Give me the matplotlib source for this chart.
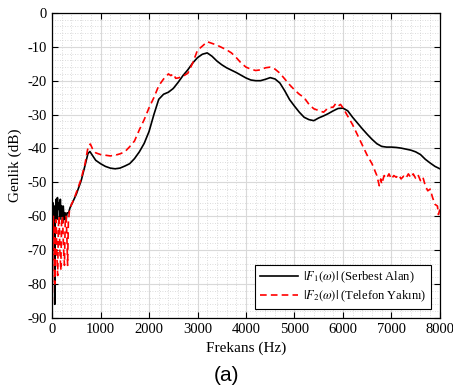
import matplotlib
matplotlib.use("Agg")
import matplotlib.pyplot as plt
import numpy as np
from matplotlib.ticker import MultipleLocator

# |F1(w)| serbest alan
f1 = [0, 15, 30, 45, 55, 65, 80, 95, 110, 125, 140, 155, 170, 185, 200, 215, 230, 250, 270,
      290, 310, 340, 370, 420, 500, 600, 680, 740, 780, 830, 900, 1000, 1100, 1200, 1300,
      1400, 1500, 1600, 1700, 1800, 1900, 2000, 2100, 2200, 2300, 2400, 2500, 2600, 2700,
      2800, 2900, 3000, 3100, 3200, 3300, 3400, 3500, 3600, 3700, 3800, 3900, 4000, 4100,
      4200, 4300, 4400, 4500, 4600, 4700, 4800, 4900, 5000, 5100, 5200, 5300, 5400, 5500,
      5600, 5700, 5800, 5900, 6000, 6100, 6200, 6300, 6400, 6500, 6600, 6700, 6800, 6900,
      7000, 7100, 7200, 7300, 7400, 7500, 7600, 7700, 7800, 7900, 8000]
db1 = [-60, -56, -62, -57, -86, -60, -55, -61, -54.5, -58, -56, -61, -55, -60, -57, -62, -57,
       -61, -59, -61, -59, -59, -57.5, -56, -53.5, -49.5, -45, -41.5, -40.9, -42, -43.5,
       -44.5, -45.3, -45.8, -46, -45.8, -45.2, -44.5, -43, -41, -38.5, -35, -30, -25.5, -24,
       -23.4, -22.3, -20.5, -18.5, -16.8, -14.8, -13.2, -12.2, -11.8, -12.8, -14.2, -15.3,
       -16.2, -16.9, -17.6, -18.4, -19.2, -19.8, -20, -20, -19.6, -19.1, -19.5, -20.7, -23,
       -25.6, -27.5, -29.3, -30.8, -31.5, -31.8, -31, -30.4, -29.7, -28.9, -28.2, -28.1,
       -28.9, -30.8, -32.5, -34.2, -35.8, -37.3, -38.6, -39.4, -39.6, -39.6, -39.7, -39.9,
       -40.2, -40.5, -41, -41.8, -43.2, -44.3, -45.3, -46]

# |F2(w)| telefon yakini
f2 = [0, 15, 25, 40, 55, 70, 85, 100, 115, 130, 145, 160, 180, 195, 215, 235, 255, 270, 290,
      305, 320, 335, 360, 400, 450, 500, 600, 680, 730, 760, 790, 830, 900, 1000, 1100, 1200,
      1300, 1400, 1500, 1600, 1700, 1800, 1900, 2000, 2100, 2200, 2300, 2400, 2450, 2500,
      2550, 2600, 2700, 2800, 2900, 3000, 3100, 3200, 3300, 3400, 3500, 3600, 3700, 3800,
      3900, 4000, 4100, 4200, 4300, 4400, 4500, 4600, 4700, 4800, 4900, 5000, 5100, 5200,
      5300, 5400, 5500, 5600, 5700, 5800, 5850, 5900, 5950, 6000, 6100, 6200, 6300, 6400,
      6500, 6600, 6700, 6750, 6780, 6800, 6850, 6900, 6950, 7000, 7050, 7100, 7150, 7200,
      7250, 7300, 7350, 7400, 7450, 7500, 7550, 7600, 7650, 7700, 7750, 7800, 7850, 7900,
      7950, 7970, 8000]
db2 = [-89, -70, -60, -66, -80, -62, -61, -72, -77.5, -63, -60, -70, -76, -62, -60, -69,
       -74.5, -62, -60, -66, -74.5, -62, -58, -56.5, -55, -53, -49, -44.5, -40.5, -39, -38.7,
       -40, -41.3, -41.8, -42, -42.2, -42, -41.6, -41, -39.5, -37.8, -34.5, -31.5, -28, -25,
       -21.5, -19.5, -18, -18.5, -18, -19.3, -19.2, -18.7, -17.8, -14.8, -11, -9.8, -8.5, -9,
       -9.5, -10.2, -10.9, -11.8, -13.2, -14.8, -16, -16.6, -17, -16.8, -16.2, -16, -16.6,
       -17.8, -19.5, -21.2, -22.7, -24, -25, -27, -28.3, -28.8, -29.3, -28, -27.8, -26.8,
       -27.5, -27, -28, -30.5, -33, -36, -39, -42, -44.5, -48, -51, -49, -50.5, -48, -48.8,
       -47.5, -49, -48, -48.5, -47.8, -49, -48.2, -48.8, -47.5, -48.6, -47.5, -48.8, -47.8,
       -49.5, -48.5, -51, -52.5, -52, -54.5, -56.5, -57, -59.5, -58]

plt.rcParams['font.family'] = ['Liberation Serif', 'DejaVu Serif']
plt.rcParams['mathtext.fontset'] = 'stix'
plt.rcParams['axes.unicode_minus'] = False

fig = plt.figure(figsize=(4.53, 3.91), dpi=100)
ax = fig.add_axes([0.115, 0.187, 0.856, 0.780])

ax.plot(f1, db1, color='black', lw=1.2, label=r'$|F_1(\omega)|$ (Serbest Alan)')
ax.plot(f2, db2, color='red', lw=1.2, ls=(0, (4, 2.5)), label=r'$|F_2(\omega)|$ (Telefon Yakını)')

ax.set_xlim(0, 8000)
ax.set_ylim(-90, 0)
ax.xaxis.set_major_locator(MultipleLocator(1000))
ax.xaxis.set_minor_locator(MultipleLocator(200))
ax.yaxis.set_major_locator(MultipleLocator(10))
ax.yaxis.set_minor_locator(MultipleLocator(2))
ax.grid(which='major', color='#d9d9d9', lw=0.8)
ax.grid(which='minor', color='#d0d0d0', lw=0.6, ls=(0, (1, 2)))
ax.set_axisbelow(True)
ax.tick_params(which='both', direction='in', top=True, right=True, labelsize=10.5)
ax.tick_params(which='minor', length=0)
ax.tick_params(which='major', length=4, width=0.8)
for s in ax.spines.values():
    s.set_linewidth(0.9)

ax.set_xlabel('Frekans (Hz)', fontsize=11)
ax.set_ylabel('Genlik (dB)', fontsize=11)

leg = ax.legend(loc='lower right', fontsize=9, fancybox=False, framealpha=1,
                edgecolor='black', handlelength=3.0, handletextpad=0.4,
                borderpad=0.4, labelspacing=0.3, borderaxespad=0.7)
leg.get_frame().set_linewidth(0.8)

fig.text(0.5, 0.04, '(a)', ha='center', va='center', fontsize=15, family='Liberation Sans')

fig.savefig('out.png', dpi=100)
